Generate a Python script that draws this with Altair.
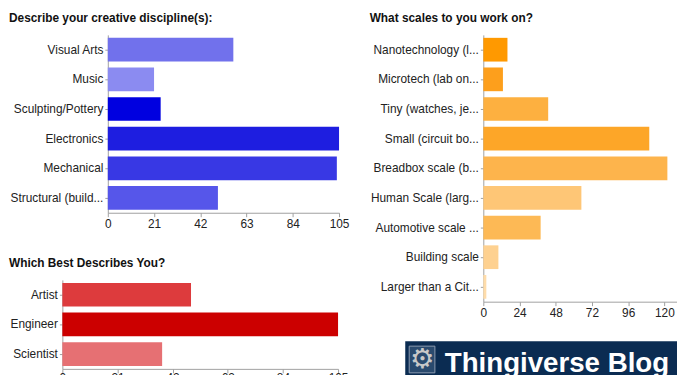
import altair as alt
import pandas as pd

# ---- data ----
disc_title = "Describe your creative discipline(s):"
disc_cats = ["Visual Arts", "Music", "Sculpting/Pottery", "Electronics", "Mechanical", "Structural (build..."]
disc_vals = [57, 21, 24, 105, 104, 50]
disc_ticks = [0, 21, 42, 63, 84, 105]

scale_title = "What scales to you work on?"
scale_cats = ["Nanotechnology (l...", "Microtech (lab on...", "Tiny (watches, je...", "Small (circuit bo...",
              "Breadbox scale (b...", "Human Scale (larg...", "Automotive scale ...", "Building scale",
              "Larger than a Cit..."]
scale_vals = [16, 13, 43, 110, 122, 65, 38, 10, 2]
scale_ticks = [0, 24, 48, 72, 96, 120]

who_title = "Which Best Describes You?"
who_cats = ["Artist", "Engineer", "Scientist"]
who_vals = [49, 105, 38]
who_ticks = [0, 21, 42, 63, 84, 105]

banner_text = ["Thingiverse Blog"]
gear_text = ["\u2699"]

# ---- palettes ----
disc_colors = ["#7171ec", "#8b8bf1", "#0000e0", "#1e1ee0", "#3838e4", "#5656ea"]
scale_colors = ["#ff9900", "#fd9f1c", "#fdb040", "#fda628", "#fdb44c", "#fec676", "#fdb955", "#fed190", "#fedcaa"]
who_colors = ["#dd3b3d", "#cc0000", "#e67073"]

FONT = "Liberation Sans"
AXC = "#a0a0a0"


def bar_chart(title, cats, vals, colors, ticks, xmax, w, h, x0, title_dx, lab_pad=2):
    df = pd.DataFrame({"cat": cats, "val": vals})
    return alt.Chart(
        df,
        title=alt.Title(title, anchor="start", frame="group", dx=title_dx, fontSize=12, font=FONT,
                        fontWeight="bold", color="#111", offset=10),
    ).mark_bar().encode(
        x=alt.X("val:Q",
                scale=alt.Scale(domain=[0, xmax], nice=False, zero=True, range=[x0, w]),
                axis=alt.Axis(values=ticks, title=None, grid=False, domainColor=AXC,
                              tickColor=AXC, tickSize=4, labelFontSize=12, labelFont=FONT,
                              labelColor="#222", labelPadding=lab_pad, labelFlush=False,
                              labelOverlap=False, format="d")),
        y=alt.Y("cat:N", sort=cats,
                scale=alt.Scale(paddingInner=0.2, paddingOuter=0.1),
                axis=alt.Axis(title=None, domainColor=AXC, tickColor=AXC, tickSize=3,
                              labelFontSize=12, labelFont=FONT, labelColor="#222", labelPadding=2,
                              labelLimit=300, offset=-x0)),
        color=alt.Color("cat:N", scale=alt.Scale(domain=cats, range=colors), legend=None),
    ).properties(width=w, height=h)


# left column shares its plot origin (x = 62 on the page); the top chart starts its bars 46px in
c1 = bar_chart(disc_title, disc_cats, disc_vals, disc_colors, disc_ticks, 105, 280, 180, 46, -54)
c3 = bar_chart(who_title, who_cats, who_vals, who_colors, who_ticks, 105, 279, 90, 0, -54, lab_pad=0)
c2 = bar_chart(scale_title, scale_cats, scale_vals, scale_colors, scale_ticks, 131, 200, 270, 0, -115)

bdf = pd.DataFrame({"t": banner_text, "g": gear_text})
b_rect = alt.Chart(bdf).mark_rect(color="#0b2c52").encode(
    x=alt.value(-79), x2=alt.value(201), y=alt.value(0), y2=alt.value(42))
b_box = alt.Chart(bdf).mark_rect(fill="#2a4a6e", stroke="#8c9bb0", strokeWidth=1).encode(
    x=alt.value(-75), x2=alt.value(-49), y=alt.value(5), y2=alt.value(32))
b_gear = alt.Chart(bdf).mark_text(font="DejaVu Sans", fontSize=28, color="#c8c8c8",
                                  align="center", baseline="middle").encode(
    text="g:N", x=alt.value(-62), y=alt.value(19))
b_text = alt.Chart(bdf).mark_text(font=FONT, fontSize=28, fontWeight="bold", color="#ffffff",
                                  align="left", baseline="alphabetic").encode(
    text="t:N", x=alt.value(-39), y=alt.value(31))
banner = alt.layer(b_rect, b_box, b_gear, b_text).properties(width=200, height=40)

left = alt.concat(c1, c3, columns=1, align="none", spacing=28).resolve_scale(
    color="independent", x="independent", y="independent")
right = alt.concat(c2, banner, columns=1, align="none", spacing=23).resolve_scale(
    color="independent", x="independent", y="independent")
chart = alt.hconcat(left, right, spacing=20).resolve_scale(
    color="independent", x="independent", y="independent"
).properties(
    autosize=alt.AutoSizeParams(type="none"),
    padding={"left": 55, "top": 25, "right": 622, "bottom": 342},
).configure_view(strokeWidth=0)

chart.save("out.html", embed_options={"renderer": "svg", "actions": False})
